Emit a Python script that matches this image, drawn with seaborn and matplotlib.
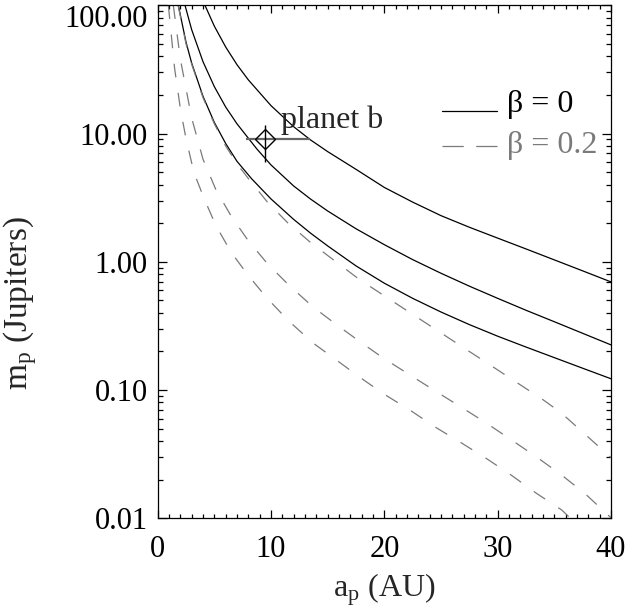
import numpy as np
import pandas as pd
import matplotlib
matplotlib.use("Agg")
import matplotlib.pyplot as plt
import seaborn as sns
from matplotlib.ticker import FixedLocator, LogLocator, NullFormatter, FixedFormatter, MultipleLocator

# ---- data ----
# solid curves (beta = 0)
a_sA = [4.17, 5, 6, 7, 8, 10, 12, 13.5, 15, 17.5, 20, 22.5, 25, 27.5, 30, 32.5, 35, 37.5, 40]
m_sA = [100, 68.7, 47.3, 34.4, 26.2, 16.5, 11.3, 8.9, 7.23, 5.26, 3.8, 2.92, 2.29, 1.86, 1.53, 1.26, 1.035, 0.85, 0.697]

a_sB = [2.41, 3, 4, 5, 6, 7, 8.74, 10, 12, 13.5, 15, 17.5, 20, 22.5, 25, 27.5, 30, 32.5, 35, 37.5, 40]
m_sB = [100, 64.5, 36.3, 23.2, 16.1, 11.9, 7.6, 5.69, 3.90, 3.08, 2.49, 1.81, 1.36, 1.04, 0.814, 0.646, 0.519, 0.419, 0.341, 0.277, 0.225]

a_sC = [1.82, 2.5, 3, 4, 5, 6, 7, 8.3, 10, 12, 13.5, 15, 17.5, 20, 22.5, 25, 27.5, 30, 32.5, 35, 37.5, 40]
m_sC = [100, 51.6, 35.4, 19.5, 12.2, 8.36, 6.07, 4.43, 3.09, 2.14, 1.67, 1.33, 0.929, 0.681, 0.519, 0.406, 0.324, 0.263, 0.2165, 0.179, 0.148, 0.1225]

# dashed curves (beta = 0.2)
a_d1 = [1.8, 2.5, 3, 4, 5, 6, 7, 8, 9.67, 11.53, 13.47, 15, 17.8, 20, 22.5, 25, 26.74, 29, 31.4, 34, 35.57, 37.6, 40]
m_d1 = [100, 50, 34.7, 19, 11.9, 8.0, 5.8, 4.46, 2.93, 1.99, 1.42, 1.12, 0.728, 0.543, 0.389, 0.279, 0.221, 0.164, 0.119, 0.0841, 0.0668, 0.0462, 0.0297]

a_d2 = [1.38, 2, 3, 4, 5.12, 6.47, 7.97, 9.67, 11.56, 13.7, 15.71, 17.77, 19.97, 22.27, 24.47, 26.74, 29.04, 31.24, 33.45, 35.66, 37.7, 39.6, 40]
m_d2 = [100, 38.0, 13.2, 6.3, 3.68, 2.28, 1.47, 0.97, 0.66, 0.445, 0.327, 0.241, 0.176, 0.131, 0.0986, 0.074, 0.055, 0.0407, 0.030, 0.0217, 0.0156, 0.0109, 0.0101]

a_d3 = [0.94, 1.5, 2, 2.5, 3.2, 4.06, 5.12, 6.47, 7.97, 9.67, 11.56, 13.7, 15.71, 17.77, 19.97, 22.27, 24.47, 26.74, 29.0, 31.2, 33.45, 35.66, 36.8]
m_d3 = [100, 31.8, 15.7, 9.1, 4.97, 3.17, 1.93, 1.19, 0.787, 0.518, 0.346, 0.233, 0.173, 0.127, 0.093, 0.0697, 0.0516, 0.039, 0.0293, 0.0217, 0.0156, 0.0116, 0.0093]

# planet b measurement
planet_a = [9.5]
planet_m = [9.0]
planet_a_err = [[1.7], [3.95]]
planet_m_err = [[3.0], [2.6]]
planet_label = "planet b"

legend_labels = ["β = 0", "β = 0.2"]
y_ticks = [0.01, 0.1, 1, 10, 100]
y_ticklabels = ["0.01", "0.10", "1.00", "10.00", "100.00"]
x_ticks = [0, 10, 20, 30, 40]

# ---- style ----
sns.set_style("ticks")
plt.rcParams['font.family'] = ['Liberation Serif', 'DejaVu Serif']
plt.rcParams['mathtext.fontset'] = 'custom'
plt.rcParams['mathtext.rm'] = 'Liberation Serif'
plt.rcParams['mathtext.it'] = 'Liberation Serif:italic'

FS_TICK = 22
FS = 23
GRAY = "#7a7a7a"
DASH = (0, (11, 12.5))

fig = plt.figure(figsize=(6.30, 6.07), dpi=100)
ax = fig.add_axes([0.2503, 0.1461, 0.9698 - 0.2503, 0.9913 - 0.1461])

solid = [(a_sA, m_sA), (a_sB, m_sB), (a_sC, m_sC)]
dashed = [(a_d1, m_d1), (a_d2, m_d2), (a_d3, m_d3)]

for a, m in solid:
    df = pd.DataFrame({"a": a, "m": m})
    sns.lineplot(data=df, x="a", y="m", ax=ax, color="black", lw=0.9,
                 sort=False, estimator=None)
for a, m in dashed:
    df = pd.DataFrame({"a": a, "m": m})
    sns.lineplot(data=df, x="a", y="m", ax=ax, color=GRAY, lw=0.9,
                 sort=False, estimator=None)
    ax.lines[-1].set_linestyle(DASH)

# planet point with error bars
ax.errorbar(planet_a, planet_m, xerr=planet_a_err, fmt='none', ecolor="#666666",
            elinewidth=1.6, capsize=0)
ax.errorbar(planet_a, planet_m, yerr=planet_m_err, fmt='none', ecolor="black",
            elinewidth=1.0, capsize=0)
ax.plot(planet_a, planet_m, marker='D', ms=10, mfc='none', mec='black', mew=1.0, ls='none')
ax.text(10.9, 11.0, planet_label, fontsize=FS, ha='left', va='baseline')

ax.set_yscale('log')
ax.set_xlim(0, 40)
ax.set_ylim(0.01, 100)

ax.yaxis.set_major_locator(FixedLocator(y_ticks))
ax.yaxis.set_major_formatter(FixedFormatter(y_ticklabels))
ax.yaxis.set_minor_locator(LogLocator(base=10, subs=np.arange(2, 10)))
ax.yaxis.set_minor_formatter(NullFormatter())
ax.xaxis.set_major_locator(FixedLocator(x_ticks))
ax.xaxis.set_minor_locator(MultipleLocator(1))

ax.tick_params(which='both', direction='in', top=True, right=True, colors='black',
               labelsize=FS_TICK, width=0.9)
ax.tick_params(axis='y', which='major', length=6.5, pad=7)
ax.tick_params(axis='y', which='minor', length=3.4)
ax.tick_params(axis='x', which='major', length=6.0, pad=12)
ax.tick_params(axis='x', which='minor', length=3.0)
for s in ax.spines.values():
    s.set_visible(True)
    s.set_linewidth(0.9)
    s.set_color('black')

ax.set_xlabel(r"a$_\mathrm{p}$ (AU)", fontsize=FS, labelpad=5)
ax.set_ylabel(r"m$_\mathrm{p}$ (Jupiters)", fontsize=24)
ax.yaxis.set_label_coords(-0.262, 0.42)

# legend (drawn in axes coordinates, like the reference's corner key)
ax.plot([0.6265, 0.748], [0.794, 0.794], transform=ax.transAxes, color='black', lw=0.9)
ax.text(0.770, 0.792, legend_labels[0], transform=ax.transAxes, fontsize=FS,
        ha='left', va='baseline', color='black')
ax.plot([0.6265, 0.748], [0.7257, 0.7257], transform=ax.transAxes, color=GRAY, lw=0.9,
        ls=(0, (17, 10)))
ax.text(0.770, 0.713, legend_labels[1], transform=ax.transAxes, fontsize=FS,
        ha='left', va='baseline', color=GRAY)

# keep the top tick label inside the figure
fig.canvas.draw()
ylabels = ax.get_yticklabels()
ylabels[-1].set_verticalalignment('top')

fig.savefig("out.png", dpi=100)
